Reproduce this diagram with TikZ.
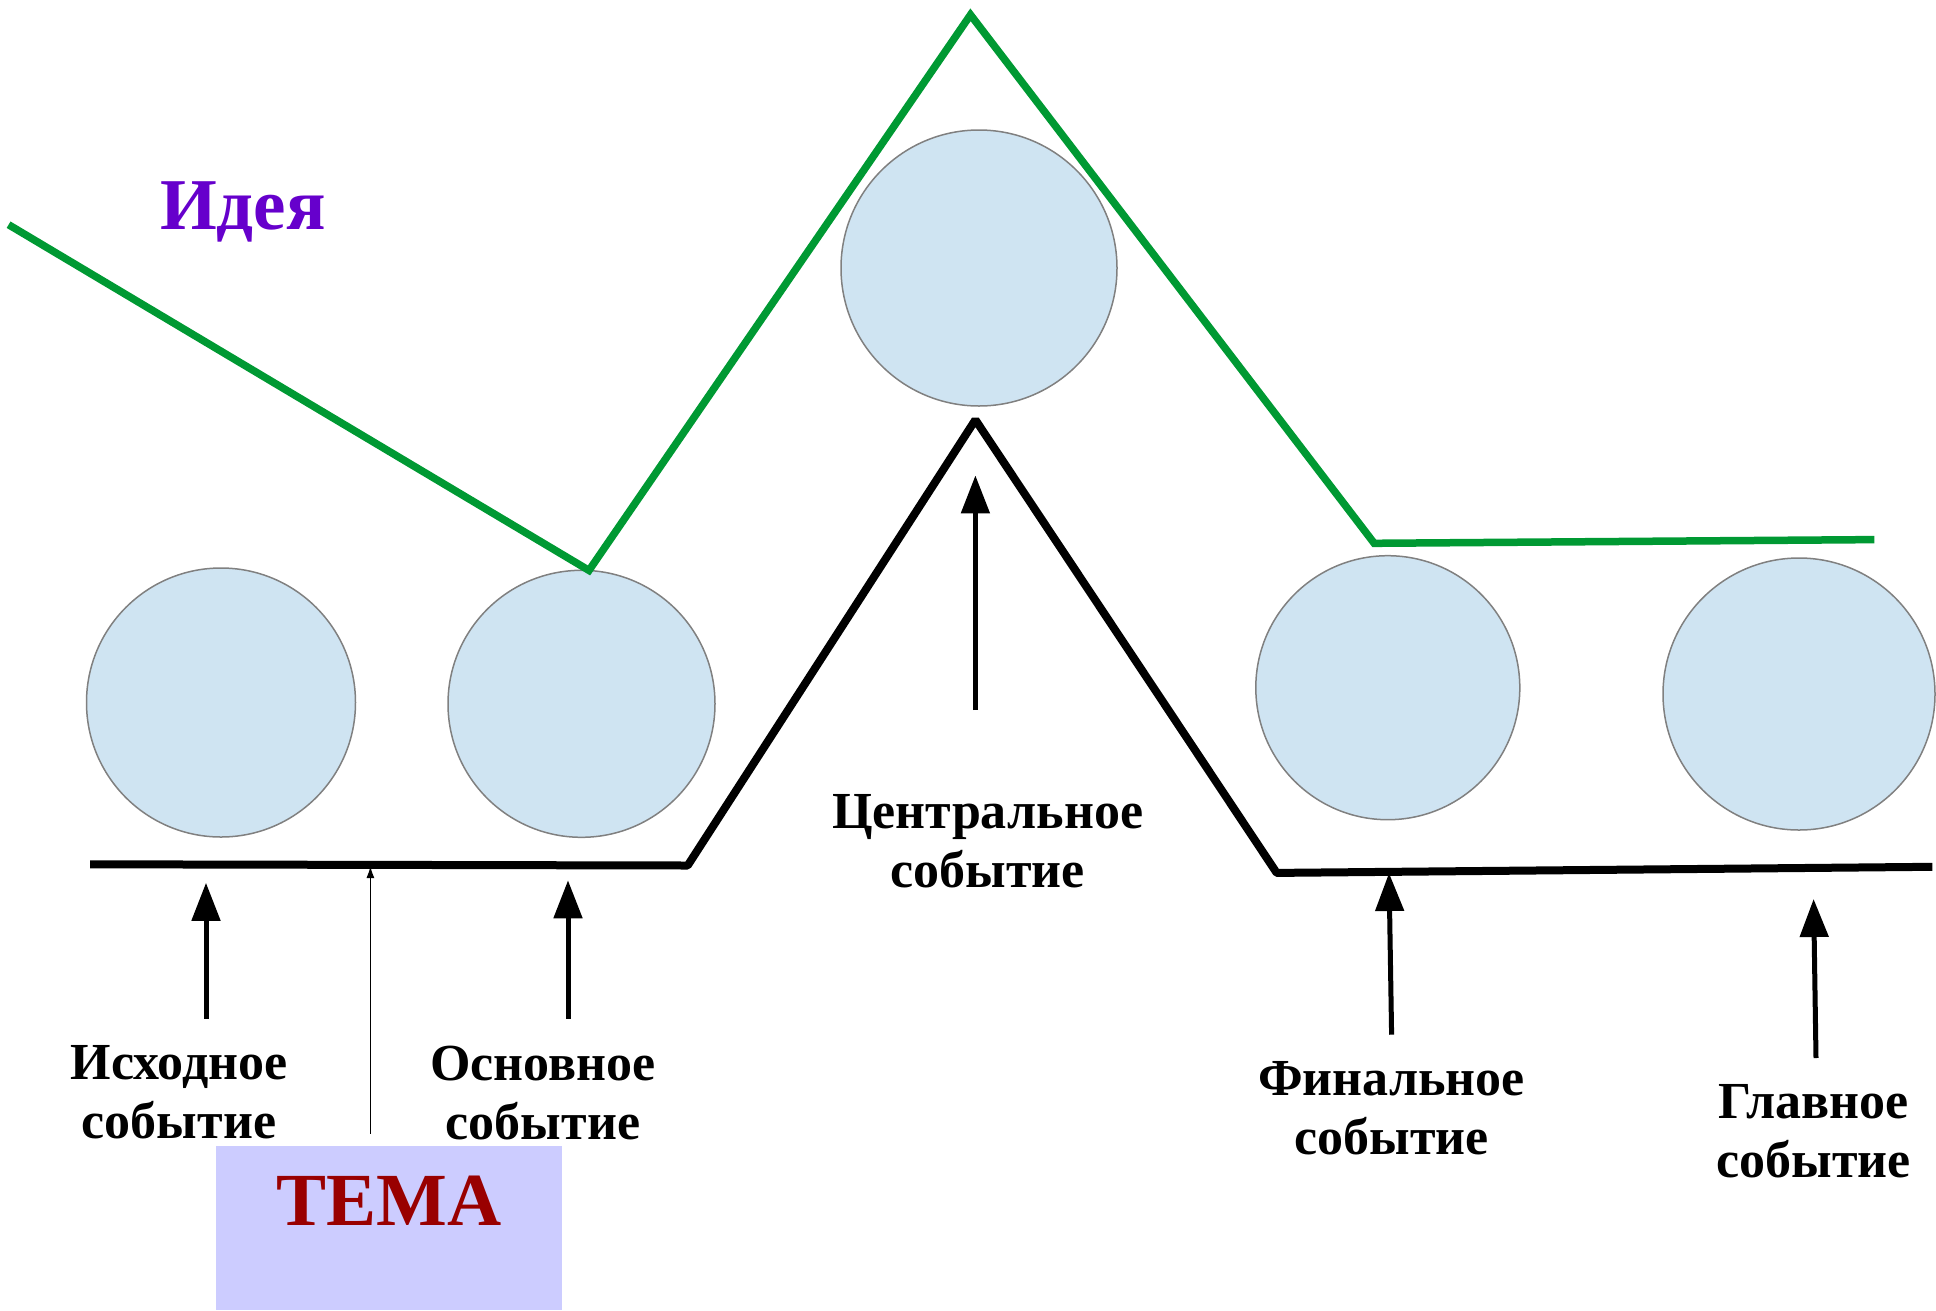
\documentclass[tikz,border=0pt]{standalone}
\usepackage{fontspec}
\setmainfont{Liberation Serif}
\usepackage{tikz}
\usetikzlibrary{arrows.meta,positioning}
\definecolor{ideagreen}{RGB}{0,153,51}
\definecolor{ideapurple}{RGB}{102,0,204}
\definecolor{temared}{RGB}{153,0,0}
\definecolor{temafill}{RGB}{204,204,255}
\definecolor{eventfill}{RGB}{207,228,242}

\begin{document}
\begin{tikzpicture}[x=1pt,y=-1pt,>=Latex]
  \tikzstyle{event}=[circle,draw=gray,line width=1.5pt,fill=eventfill,inner sep=0pt]
  \tikzstyle{lbl}=[align=center,inner sep=0pt,font=\fontsize{52}{59}\selectfont\bfseries]
  \tikzstyle{uparrow}=[-{Triangle[length=38pt,width=28pt]},line width=5pt]
  \useasboundingbox (0,0) rectangle (1936,1310);
  % events
  \node[event,minimum size=269pt] (srcCirc) at (221,702.5) {};
  \node[event,minimum size=267pt] (mainCirc) at (581.5,703.8) {};
  \node[event,minimum size=276pt] (centCirc) at (979,268) {};
  \node[event,minimum size=264pt] (finCirc) at (1387.8,687.7) {};
  \node[event,minimum size=272pt] (topCirc) at (1799,694) {};
  % idea line
  \coordinate (g1) at (8.6,224.7);
  \coordinate (g2) at (589,570.4);
  \coordinate (g3) at (970.5,14.8);
  \coordinate (g4) at (1374.2,543.3);
  \coordinate (g5) at (1874.3,539.6);
  \draw[ideagreen,line width=7.5pt] (g1) -- (g2) -- (g3) -- (g4) -- (g5);
  % plot line
  \coordinate (b1) at (90.1,864.3);
  \coordinate (b2) at (687.7,865.5);
  \coordinate (b3) at (975.4,419.8);
  \coordinate (b4) at (1276.7,872.9);
  \coordinate (b5) at (1932.3,866.8);
  \draw[line width=8pt,line join=bevel] (b1) -- (b2) -- (b3) -- (b4) -- (b5);
  \node[font=\fontsize{73}{80}\selectfont\bfseries,text=ideapurple] (idea) at (243,212) {Идея};
  % labels
  \node[lbl] (srcLbl) at (179,1092.7) {Исходное\\событие};
  \node[lbl] (mainLbl) at (543,1092.7) {Основное\\событие};
  \node[lbl] (centLbl) at (987.8,841) {Центральное\\событие};
  \node[lbl] (finLbl) at (1391.6,1108) {Финальное\\событие};
  \node[lbl] (topLbl) at (1813.6,1131) {Главное\\событие};
  % arrows
  \coordinate (a1s) at (206,1018.6);  \coordinate (a1e) at (206,882.8);
  \coordinate (a2s) at (568,1018.6);  \coordinate (a2e) at (568,880.3);
  \coordinate (a3s) at (975.4,710);   \coordinate (a3e) at (975.4,475.4);
  \coordinate (a4s) at (1391.6,1034.7); \coordinate (a4e) at (1389,873);
  \coordinate (a5s) at (1816,1058);   \coordinate (a5e) at (1813.6,899);
  \foreach \i in {1,...,5}
    \draw[uparrow] (a\i s) -- (a\i e);
  % theme
  \node[fill=temafill,minimum width=346pt,minimum height=164pt,anchor=north west,inner sep=0pt] (temaBox) at (216,1146) {};
  \node[font=\fontsize{75}{80}\selectfont\bfseries,text=temared] (tema) at (389,1201) {ТЕМА};
  \coordinate (t1) at (370.4,1133.5);
  \coordinate (t2) at (370.4,866);
  \draw[-{Latex[length=12pt,width=8pt]},line width=1.5pt] (t1) -- (t2);
\end{tikzpicture}
\end{document}
